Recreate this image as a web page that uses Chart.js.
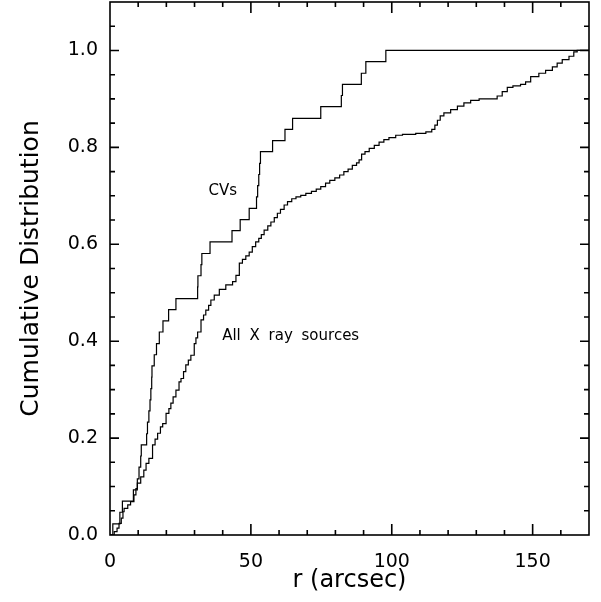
<!DOCTYPE html>
<html>
<head>
<meta charset="utf-8">
<script src="https://cdn.jsdelivr.net/npm/chart.js@4"></script>
<style>
  html, body { margin: 0; padding: 0; background: #fff; }
  canvas { display: block; }
</style>
</head>
<body>
<canvas id="cdfChart" width="601" height="602"></canvas>
<script>
// CVs: radius (arcsec) where the cumulative fraction jumps, and the fraction after the jump
var cvR = [0, 1.0, 3.5, 4.4, 8.3, 9.7, 10.3, 10.9, 11.1, 13.0, 13.3, 13.8, 14.2, 14.5, 14.8, 14.9,
  15.7, 16.5, 17.5, 18.8, 20.8, 23.4, 31.1, 31.2, 32.3, 32.6, 35.5, 43.3, 46.2, 49.4, 52.0, 52.4,
  52.8, 53.1, 53.4, 57.7, 62.1, 64.8, 74.8, 82.1, 82.5, 89.2, 90.8, 97.9, 170];
var cvF = [0, 0.023, 0.047, 0.070, 0.093, 0.116, 0.140, 0.163, 0.186, 0.209, 0.233, 0.256, 0.279, 0.302, 0.326, 0.349,
  0.372, 0.395, 0.419, 0.442, 0.465, 0.488, 0.512, 0.535, 0.558, 0.581, 0.605, 0.628, 0.651, 0.674, 0.698, 0.721,
  0.744, 0.767, 0.791, 0.814, 0.837, 0.860, 0.884, 0.907, 0.930, 0.953, 0.977, 1.0, 1.0];

// All X ray sources
var allR = [0, 1.5, 2.5, 3.2, 4.0, 4.6, 5.0, 6.3, 7.3, 8.5, 9.2, 9.7, 10.9, 12.0, 12.8, 13.8, 15.1, 16.0, 16.9,
  17.9, 18.7, 19.9, 20.9, 21.6, 22.4, 23.4, 24.5, 25.2, 26.1, 26.9, 27.8, 28.7, 29.9, 30.5, 31.1, 32.3, 33.2,
  34.0, 35.0, 35.8, 37.0, 38.8, 41.1, 43.5, 44.7, 45.9, 47.0, 48.2, 49.4, 50.5, 51.7, 52.8, 53.7, 54.7, 56.0,
  57.1, 58.3, 59.4, 60.5, 61.8, 63.0, 64.5, 66.0, 67.7, 69.5, 71.5, 73.2, 74.8, 76.5, 78.0, 79.8, 81.5, 83.0,
  84.5, 86.0, 87.5, 88.4, 89.3, 90.5, 92.0, 93.8, 95.5, 97.2, 99.0, 101.4, 103.8, 108.5, 112.1, 114.2, 115.3,
  116.2, 117.2, 118.5, 120.9, 123.3, 125.6, 128.0, 131.0, 135.7, 137.4, 139.2, 141.0, 143.0, 145.7, 147.5,
  149.3, 152.2, 154.6, 157.0, 158.7, 160.5, 162.9, 164.6, 165.8, 170];
var allF = [0, 0.007, 0.014, 0.024, 0.035, 0.048, 0.055, 0.062, 0.069, 0.083, 0.096, 0.107, 0.120, 0.134, 0.148, 0.158, 0.186, 0.198, 0.210,
  0.223, 0.230, 0.251, 0.261, 0.272, 0.285, 0.299, 0.316, 0.323, 0.337, 0.351, 0.361, 0.371, 0.395, 0.407, 0.419, 0.444, 0.454,
  0.464, 0.474, 0.485, 0.495, 0.507, 0.516, 0.523, 0.536, 0.561, 0.569, 0.576, 0.584, 0.595, 0.605, 0.612, 0.620, 0.629, 0.638,
  0.646, 0.655, 0.664, 0.672, 0.681, 0.688, 0.694, 0.698, 0.701, 0.705, 0.709, 0.714, 0.719, 0.726, 0.732, 0.737, 0.743, 0.750,
  0.755, 0.763, 0.768, 0.774, 0.786, 0.791, 0.798, 0.804, 0.811, 0.816, 0.820, 0.825, 0.827, 0.829, 0.832, 0.837, 0.846,
  0.856, 0.865, 0.871, 0.878, 0.885, 0.892, 0.897, 0.900, 0.900, 0.906, 0.915, 0.924, 0.927, 0.930, 0.935,
  0.946, 0.953, 0.959, 0.966, 0.974, 0.981, 0.988, 0.997, 1.0, 1.0];

// axis ticks
var xTicks = [0, 50, 100, 150];
var yTicks = [0, 0.2, 0.4, 0.6, 0.8, 1.0];
var xMinorStep = 10;
var yMinorStep = 0.05;

// labels written on the plot
var labels = [
  { text: 'CVs', r: 40, f: 0.71, align: 'center' },
  { text: 'All X ray sources', r: 39.8, f: 0.41, align: 'left' }
];

const FONT = "'DejaVu Sans', sans-serif";

function toPoints(xs, ys) {
  return xs.map(function (v, i) { return { x: v, y: ys[i] }; });
}

// IDL-like frame: box on all four sides with inward ticks
const framePlugin = {
  id: 'frame',
  afterDraw(chart) {
    const ctx = chart.ctx;
    const a = chart.chartArea;
    const x = chart.scales.x, y = chart.scales.y;
    ctx.save();
    ctx.strokeStyle = '#000';
    ctx.lineWidth = 1.6;
    ctx.strokeRect(a.left, a.top, a.right - a.left, a.bottom - a.top);
    ctx.beginPath();
    const nx = Math.round((x.max - x.min) / xMinorStep);
    for (let i = 1; i < nx; i++) {
      const v = x.min + i * xMinorStep;
      const px = x.getPixelForValue(v);
      const len = xTicks.indexOf(v) >= 0 ? 11 : 5;
      ctx.moveTo(px, a.bottom); ctx.lineTo(px, a.bottom - len);
      ctx.moveTo(px, a.top); ctx.lineTo(px, a.top + len);
    }
    const ny = Math.round((y.max - y.min) / yMinorStep);
    for (let i = 1; i < ny; i++) {
      const v = +(y.min + i * yMinorStep).toFixed(2);
      const py = y.getPixelForValue(v);
      const len = yTicks.indexOf(v) >= 0 ? 9 : 5;
      ctx.moveTo(a.left, py); ctx.lineTo(a.left + len, py);
      ctx.moveTo(a.right, py); ctx.lineTo(a.right - len, py);
    }
    ctx.stroke();

    ctx.fillStyle = '#000';
    ctx.font = '15px ' + FONT;
    ctx.textBaseline = 'middle';
    ctx.wordSpacing = '4px';
    labels.forEach(function (l) {
      ctx.textAlign = l.align;
      ctx.fillText(l.text, x.getPixelForValue(l.r), y.getPixelForValue(l.f));
    });
    ctx.restore();
  }
};

const ctx = document.getElementById('cdfChart').getContext('2d');
const cdfChart = new Chart(ctx, {
  type: 'line',
  data: {
    datasets: [{
      label: 'CVs',
      data: toPoints(cvR, cvF),
      stepped: true,
      borderColor: '#000',
      borderWidth: 1.2,
      pointRadius: 0,
      fill: false
    }, {
      label: 'All X ray sources',
      data: toPoints(allR, allF),
      stepped: true,
      borderColor: '#000',
      borderWidth: 1.2,
      pointRadius: 0,
      fill: false
    }]
  },
  options: {
    responsive: false,
    animation: false,
    layout: { padding: { top: 2, right: 12, left: 0, bottom: 0 } },
    plugins: { legend: { display: false }, tooltip: { enabled: false } },
    scales: {
      x: {
        type: 'linear',
        min: 0,
        max: 170,
        afterFit: function (s) { s.height = 67; s.paddingLeft = 0; s.paddingRight = 0; },
        afterBuildTicks: function (s) { s.ticks = xTicks.map(function (v) { return { value: v }; }); },
        grid: { display: false, drawTicks: false },
        border: { display: false },
        ticks: { color: '#000', font: { family: FONT, size: 19 }, padding: 16, maxRotation: 0 },
        title: { display: true, text: 'r (arcsec)', color: '#000', font: { family: FONT, size: 24 }, padding: { top: 0, bottom: 7 } }
      },
      y: {
        type: 'linear',
        min: 0,
        max: 1.1,
        afterFit: function (s) { s.width = 110; s.paddingTop = 0; s.paddingBottom = 0; },
        afterBuildTicks: function (s) { s.ticks = yTicks.map(function (v) { return { value: v }; }); },
        grid: { display: false, drawTicks: false },
        border: { display: false },
        ticks: { color: '#000', font: { family: FONT, size: 19 }, padding: 12,
          callback: function (v) { return v.toFixed(1); } },
        title: { display: true, text: 'Cumulative Distribution', color: '#000', font: { family: FONT, size: 25 }, padding: { top: 16, bottom: 0 } }
      }
    }
  },
  plugins: [framePlugin]
});
</script>
</body>
</html>
